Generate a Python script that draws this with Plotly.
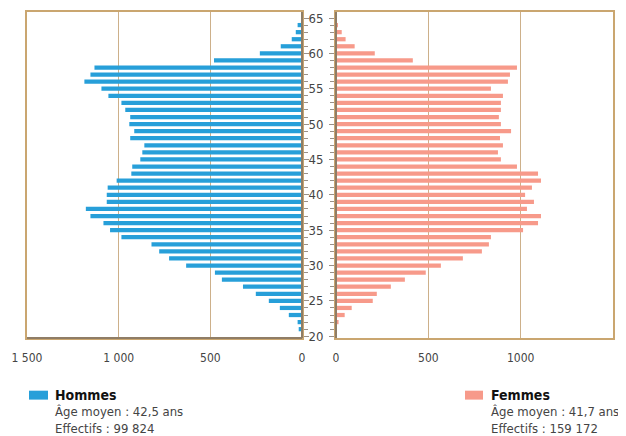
# -*- coding: utf-8 -*-
"""
Pyramide des âges : hommes / femmes
"""
import plotly.graph_objects as go

# ages et effectifs par age
ages_hommes = list(range(21, 65))
hommes = [18, 24, 72, 121, 181, 252, 322, 437, 475, 632,
          725, 779, 821, 985, 1047, 1083, 1154, 1179, 1065, 1065,
          1060, 1011, 931, 926, 882, 871, 860, 937, 915, 942,
          937, 964, 985, 1056, 1094, 1187, 1154, 1132, 480, 230,
          116, 56, 34, 24]

ages_femmes = list(range(22, 65))
femmes = [14, 47, 85, 199, 221, 297, 373, 486, 568, 687,
          790, 828, 839, 1013, 1094, 1110, 1034, 1072, 1024, 1061,
          1110, 1094, 980, 893, 877, 904, 888, 948, 893, 882,
          893, 893, 904, 839, 931, 942, 980, 416, 210, 101,
          52, 31, 7]

ticks_h = [1500, 1000, 500, 0]
labels_h = ["1 500", "1 000", "500", "0"]
ticks_f = [0, 500, 1000, 1500]
labels_f = ["0", "500", "1000", "1 500"]
ticks_age = [20, 25, 30, 35, 40, 45, 50, 55, 60, 65]

BLEU = "#279fd9"
SAUMON = "#f79a8a"
CADRE = "#caa670"
AXE = "#8f7d66"
GRILLE = "#cdb08a"
FONT = "DejaVu Sans Condensed, Liberation Sans, Arial, sans-serif"

fig = go.Figure()
fig.add_bar(x=hommes, y=ages_hommes, orientation="h",
            marker={"color": BLEU, "line": {"width": 0}},
            xaxis="x", yaxis="y", name="Hommes")
fig.add_bar(x=femmes, y=ages_femmes, orientation="h",
            marker={"color": SAUMON, "line": {"width": 0}},
            xaxis="x2", yaxis="y2", name="Femmes")

axe_x = dict(showline=True, mirror=True, linecolor=CADRE, linewidth=2,
             showgrid=True, gridcolor=GRILLE, gridwidth=1,
             zeroline=False, ticks="", ticklabelstandoff=8,
             tickfont={"size": 12, "color": "#444444"})
axe_y = dict(range=[19.75, 65.85], showline=True, mirror=True,
             linecolor=CADRE, linewidth=2, showgrid=False, zeroline=False,
             tickvals=ticks_age, ticks="outside", ticklen=5,
             tickcolor="#999088",
             minor={"dtick": 1, "ticks": "outside", "ticklen": 4,
                    "tickcolor": "#999088"},
             tickfont={"size": 13, "color": "#444444"})

# la page ajoute 8 px de marge autour du graphique
fig.update_layout(
    width=618, height=428,
    margin={"l": 19, "r": 13, "t": 2, "b": 98},
    plot_bgcolor="white", paper_bgcolor="white",
    font={"family": FONT, "color": "#444444"},
    showlegend=False, bargap=0.4,
    xaxis=dict(axe_x, domain=[0, 0.4693], range=[1500, 0],
               tickvals=ticks_h, ticktext=labels_h),
    yaxis=dict(axe_y, anchor="x", side="right", showticklabels=False),
    xaxis2=dict(axe_x, domain=[0.5273, 1], range=[0, 1500],
                tickvals=ticks_f, ticktext=labels_f),
    yaxis2=dict(axe_y, anchor="x2", side="left", ticklabelstandoff=3),
)

# bords plus foncés (axe central et bas du panneau gauche)
fig.add_shape(type="line", xref="x domain", yref="y domain",
              x0=1, x1=1, y0=0, y1=1, line={"color": AXE, "width": 2})
fig.add_shape(type="line", xref="x domain", yref="y domain",
              x0=0, x1=1, y0=0, y1=0, line={"color": AXE, "width": 2})
fig.add_shape(type="line", xref="x2 domain", yref="y2 domain",
              x0=0, x1=0, y0=0, y1=1, line={"color": AXE, "width": 2})

# légende
for x0, x1, couleur in [(0.0034, 0.0358, BLEU), (0.7474, 0.7782, SAUMON)]:
    fig.add_shape(type="rect", xref="paper", yref="paper",
                  x0=x0, x1=x1, y0=-0.189, y1=-0.1616,
                  fillcolor=couleur, line={"width": 0})

legende = [
    (0.0444, ["<b>Hommes</b>", "Âge moyen : 42,5 ans", "Effectifs : 99 824"]),
    (0.7884, ["<b>Femmes</b>", "Âge moyen : 41,7 ans", "Effectifs : 159 172"]),
]
for x, lignes in legende:
    for y, texte, taille in zip([-0.1738, -0.2256, -0.2774], lignes,
                                [14, 13, 13]):
        fig.add_annotation(x=x, y=y, xref="paper", yref="paper",
                           text=texte, showarrow=False,
                           xanchor="left", yanchor="middle",
                           font={"size": taille,
                                 "color": "#111111" if taille == 14 else "#444444"})

fig.write_html("out.html")
